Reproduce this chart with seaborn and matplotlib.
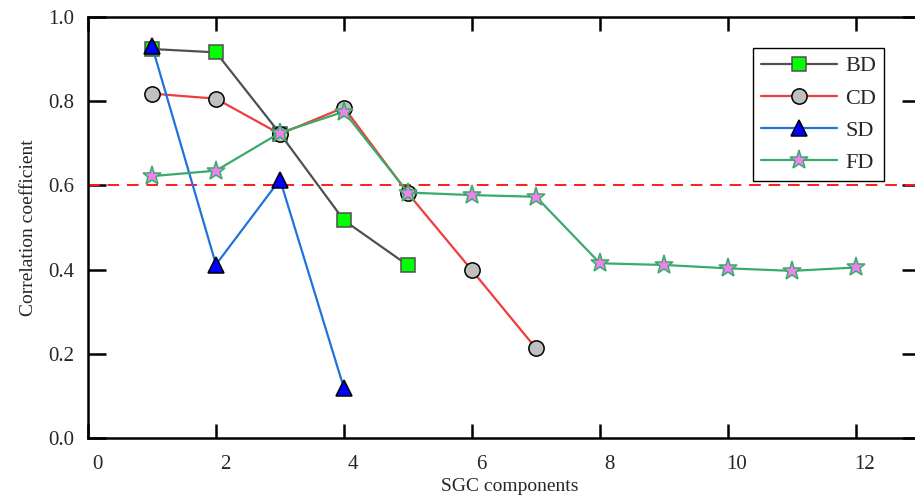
import matplotlib
matplotlib.use("Agg")
import matplotlib.pyplot as plt
import matplotlib.transforms as mtransforms
import seaborn as sns

# values
bd_x = [1, 2, 3, 4, 5]
bd_y = [0.924, 0.916, 0.723, 0.517, 0.410]

cd_x = [1, 2, 3, 4, 5, 6, 7]
cd_y = [0.818, 0.806, 0.722, 0.785, 0.581, 0.398, 0.213]

sd_x = [1, 2, 3, 4]
sd_y = [0.931, 0.412, 0.614, 0.118]

fd_x = [1, 2, 3, 4, 5, 6, 7, 8, 9, 10, 11, 12]
fd_y = [0.622, 0.635, 0.725, 0.775, 0.583, 0.577, 0.573, 0.415, 0.411, 0.403, 0.397, 0.405]

threshold = 0.6
x_ticks = [0, 2, 4, 6, 8, 10, 12]
y_ticks = [0.0, 0.2, 0.4, 0.6, 0.8, 1.0]

sns.set_style("ticks")
plt.rcParams['font.family'] = ['Liberation Serif', 'DejaVu Serif']

fig = plt.figure(figsize=(9.15, 4.96), dpi=100)
ax = fig.add_axes([88 / 915, 58 / 496, 832 / 915, 421 / 496])

# series: (x, y, label, line colour, marker, face, edge, size)
series = [
    (bd_x, bd_y, "BD", "#505050", "s", "#00ff00", "#505050", 9.5),
    (cd_x, cd_y, "CD", "#f03c3c", "o", "#c0c0c0", "black", 11),
    (sd_x, sd_y, "SD", "#1f72e0", "^", "#0000ff", "black", 12),
    (fd_x, fd_y, "FD", "#3aaa6a", "*", "#ee82ee", "#3aaa6a", 14),
]
for x, y, lab, lc, mk, mf, me, ms in series:
    sns.lineplot(x=x, y=y, ax=ax, color=lc, linewidth=1.6, label=lab,
                 marker=mk, markersize=ms, markerfacecolor=mf,
                 markeredgecolor=me, markeredgewidth=1.1)

ax.axhline(threshold, color="#ff1a1a", linestyle=(0, (6, 4)), linewidth=1.4, zorder=1)

ax.set_xlim(0, 13)
ax.set_ylim(0, 1.0)
ax.set_xticks(x_ticks)
ax.set_yticks(y_ticks)
ax.set_yticklabels([f"{v:.1f}" for v in y_ticks])

ax.tick_params(axis="both", which="both", direction="in", top=True, right=True,
               width=1.8, labelsize=15, color="black")
ax.tick_params(axis="x", length=10, pad=12)
ax.tick_params(axis="y", length=13, pad=10)
for s in ax.spines.values():
    s.set_linewidth(1.8)
    s.set_color("black")

# x tick labels in the reference sit a little right of their ticks
shift = mtransforms.ScaledTranslation(9 / 100, 0, fig.dpi_scale_trans)
for lbl in ax.get_xticklabels():
    lbl.set_transform(lbl.get_transform() + shift)

ax.set_xlabel("SGC components", fontsize=14, labelpad=3)
ax.set_ylabel("Correlation coefficient", fontsize=14, labelpad=8)
ax.xaxis.set_label_coords(0.507, -0.095)

leg = ax.legend(loc="upper right", bbox_to_anchor=(0.957, 0.926), borderaxespad=0,
                fontsize=16, fancybox=False, framealpha=1, edgecolor="black",
                handlelength=3.4, labelspacing=0.52, borderpad=0.35,
                handletextpad=0.4)
leg.get_frame().set_linewidth(1.0)

fig.savefig("out.png", dpi=100)
